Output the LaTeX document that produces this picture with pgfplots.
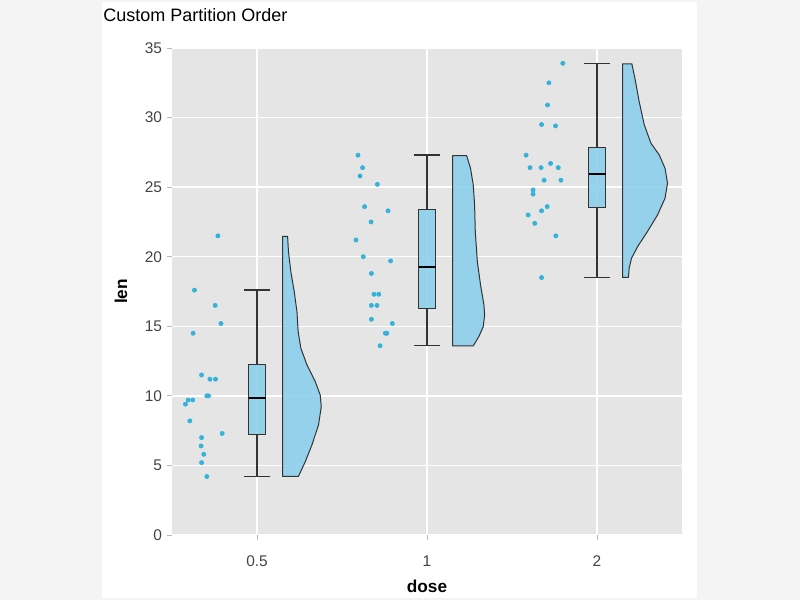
\documentclass[border=0pt]{standalone}
\usepackage{fontspec}
\setmainfont{Liberation Sans}
\usepackage{pgfplots}
\pgfplotsset{compat=1.18}

\definecolor{outerbg}{HTML}{F4F4F4}
\definecolor{panelbg}{HTML}{E5E5E5}
\definecolor{rainfill}{HTML}{87CEEB}
\definecolor{dropcol}{HTML}{33B2DA}
\definecolor{edgecol}{HTML}{333333}
\definecolor{ticktext}{HTML}{444444}

\begin{document}
\begin{tikzpicture}
% page and panel
\fill[outerbg] (0,0) rectangle (600pt,450pt);
\fill[white] (76.5pt,1.5pt) rectangle (522.75pt,448.5pt);
\node[anchor=base west, inner sep=0pt, font=\fontsize{13.5}{16}\selectfont]
  at (77.25pt,433.5pt) {Custom Partition Order};

\begin{axis}[
    at={(129pt,48.75pt)}, anchor=south west,
    scale only axis,
    width=382.5pt, height=365.25pt,
    xmin=-0.5, xmax=2.5,
    ymin=0, ymax=35,
    xtick={0,1,2},
    xticklabels={0.5,1,2},
    ytick={0,5,...,35},
    xtick pos=bottom, ytick pos=left,
    axis background/.style={fill=panelbg},
    axis line style={draw=none},
    grid=major,
    major grid style={white, line width=1pt},
    tick align=outside,
    major tick length=4pt,
    tick style={gray!55, line width=0.6pt},
    ticklabel style={font=\fontsize{11.6}{14}\selectfont, text=ticktext},
    xticklabel style={yshift=-8pt},
    /pgf/number format/assume math mode=true,
    xlabel={\textbf{dose}},
    ylabel={\textbf{len}},
    label style={font=\fontsize{12.9}{15}\selectfont},
    xlabel style={at={([yshift=-43.25pt]axis description cs:0.5,0)}, anchor=base},
    ylabel style={at={([xshift=-38.25pt]axis description cs:0,0.5)}, anchor=center},
    unbounded coords=jump,
    box/.style={draw=edgecol, line width=0.75pt, fill=rainfill, fill opacity=0.85},
    whisk/.style={draw=edgecol, line width=1pt},
    med/.style={draw=black, line width=1.6pt},
    cloud/.style={draw=edgecol, line width=0.75pt, line join=round,
                  fill=rainfill, fill opacity=0.85},
    rain/.style={only marks, mark=*, mark size=1.6pt,
                 mark options={draw=dropcol, fill=dropcol}},
]

% rain: jittered observations
\addplot[rain] coordinates {
  (-0.230,21.5) (-0.368,17.6) (-0.246,16.5) (-0.212,15.2) (-0.376,14.5)
  (-0.326,11.5) (-0.277,11.2) (-0.244,11.2) (-0.295,10.0) (-0.285,10.0)
  (-0.405,9.7) (-0.378,9.7) (-0.421,9.4) (-0.395,8.2) (-0.205,7.3)
  (-0.326,7.0) (-0.329,6.4) (-0.313,5.8) (-0.326,5.2) (-0.295,4.2)
};
\addplot[rain] coordinates {
  (0.594,27.3) (0.621,26.4) (0.606,25.8) (0.708,25.2) (0.633,23.6)
  (0.771,23.3) (0.671,22.5) (0.582,21.2) (0.625,20.0) (0.786,19.7)
  (0.673,18.8) (0.688,17.3) (0.716,17.3) (0.673,16.5) (0.706,16.5)
  (0.673,15.5) (0.796,15.2) (0.755,14.5) (0.764,14.5) (0.724,13.6)
};
\addplot[rain] coordinates {
  (1.799,33.9) (1.717,32.5) (1.709,30.9) (1.674,29.5) (1.756,29.4)
  (1.583,27.3) (1.606,26.4) (1.671,26.4) (1.772,26.4) (1.727,26.7)
  (1.689,25.5) (1.788,25.5) (1.624,24.8) (1.624,24.5) (1.707,23.6)
  (1.674,23.3) (1.595,23.0) (1.634,22.4) (1.758,21.5) (1.674,18.5)
};

% whiskers and caps
\addplot[whisk] coordinates {
  (0,4.2) (0,7.225) (nan,nan) (0,12.25) (0,17.6) (nan,nan)
  (-0.075,4.2) (0.075,4.2) (nan,nan) (-0.075,17.6) (0.075,17.6)
};
\addplot[whisk] coordinates {
  (1,13.6) (1,16.25) (nan,nan) (1,23.375) (1,27.3) (nan,nan)
  (0.925,13.6) (1.075,13.6) (nan,nan) (0.925,27.3) (1.075,27.3)
};
\addplot[whisk] coordinates {
  (2,18.5) (2,23.525) (nan,nan) (2,27.825) (2,33.9) (nan,nan)
  (1.925,18.5) (2.075,18.5) (nan,nan) (1.925,33.9) (2.075,33.9)
};

% boxes (Q1 to Q3) and medians
\addplot[box] coordinates {(-0.05,7.225) (0.05,7.225) (0.05,12.25) (-0.05,12.25)} -- cycle;
\addplot[box] coordinates {(0.95,16.25) (1.05,16.25) (1.05,23.375) (0.95,23.375)} -- cycle;
\addplot[box] coordinates {(1.95,23.525) (2.05,23.525) (2.05,27.825) (1.95,27.825)} -- cycle;
\addplot[med] coordinates {(-0.05,9.85) (0.05,9.85)};
\addplot[med] coordinates {(0.95,19.25) (1.05,19.25)};
\addplot[med] coordinates {(1.95,25.95) (2.05,25.95)};

% clouds: half violins
\addplot[cloud] coordinates {
  (0.15,4.22) (0.244,4.22) (0.284,5.27) (0.323,6.47) (0.362,7.91)
  (0.378,9.22) (0.372,10.06) (0.343,11.02) (0.294,12.22) (0.258,13.42)
  (0.242,14.62) (0.235,16.05) (0.219,17.49) (0.199,18.93) (0.185,20.37)
  (0.18,21.47) (0.15,21.47)
} -- cycle;
\addplot[cloud] coordinates {
  (1.15,13.59) (1.272,13.59) (1.305,14.26) (1.331,14.98) (1.339,15.82)
  (1.335,16.53) (1.315,17.97) (1.296,19.65) (1.284,21.81) (1.280,23.72)
  (1.272,25.16) (1.256,26.36) (1.233,27.27) (1.15,27.27)
} -- cycle;
\addplot[cloud] coordinates {
  (2.15,18.52) (2.185,18.52) (2.189,19.17) (2.203,19.89) (2.239,20.73)
  (2.297,21.81) (2.356,23.00) (2.400,24.20) (2.415,25.28) (2.400,26.36)
  (2.366,27.32) (2.317,28.16) (2.278,29.48) (2.248,31.15) (2.223,32.83)
  (2.205,33.86) (2.15,33.86)
} -- cycle;

\end{axis}
\end{tikzpicture}
\end{document}
